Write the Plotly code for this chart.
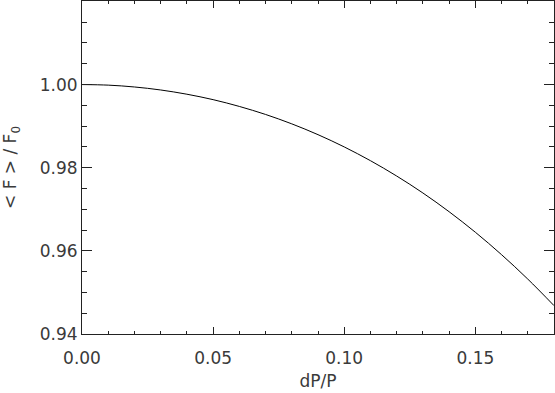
import plotly.graph_objects as go

dp_over_p = [0.00, 0.01, 0.02, 0.03, 0.04, 0.05, 0.06, 0.07, 0.08, 0.09,
             0.10, 0.11, 0.12, 0.13, 0.14, 0.15, 0.16, 0.17, 0.18]
flux_ratio = [1.00000, 0.99986, 0.99942, 0.99870, 0.99768, 0.99637, 0.99474,
              0.99281, 0.99055, 0.98795, 0.98500, 0.98169, 0.97800, 0.97392,
              0.96941, 0.96448, 0.95908, 0.95321, 0.94683]

x_ticks = [0.00, 0.05, 0.10, 0.15]
x_ticklabels = ["0.00", "0.05", "0.10", "0.15"]
y_ticks = [0.94, 0.96, 0.98, 1.00]
y_ticklabels = ["0.94", "0.96", "0.98", "1.00"]

FONT = "DejaVu Sans"
INK = "#222222"
TXT = "#3a3a3a"

fig = go.Figure()
fig.add_trace(go.Scatter(x=dp_over_p, y=flux_ratio, mode="lines",
                         line=dict(color="black", width=1, shape="spline"),
                         showlegend=False, hoverinfo="skip"))

axis_common = dict(
    showgrid=False, zeroline=False, showline=True, linecolor=INK, linewidth=1,
    mirror="ticks", ticks="inside", tickcolor=INK, tickwidth=1, automargin=False,
    tickfont=dict(family=FONT, size=17, color=TXT),
)

fig.update_xaxes(
    range=[0, 0.18], tickvals=x_ticks, ticktext=x_ticklabels, ticklen=7,
    ticklabelstandoff=9,
    minor=dict(dtick=0.01, ticks="inside", ticklen=3, tickcolor=INK, tickwidth=1),
    title=dict(text="dP/P", font=dict(family=FONT, size=17, color=TXT), standoff=7),
    **axis_common,
)
fig.update_yaxes(
    range=[0.94, 1.0201], tickvals=y_ticks, ticktext=y_ticklabels, ticklen=10,
    minor=dict(dtick=0.005, ticks="inside", ticklen=5, tickcolor=INK, tickwidth=1),
    title=dict(text="< F > / F<sub>0</sub>", font=dict(family=FONT, size=17, color=TXT), standoff=20),
    **axis_common,
)

fig.update_layout(
    width=555, height=393,
    margin=dict(l=82, r=1, t=1, b=59, autoexpand=False),
    paper_bgcolor="white", plot_bgcolor="white",
)

fig.write_html(
    "out.html",
    config={"displayModeBar": False},
    post_script="document.body.style.margin='0';"
                "document.documentElement.style.overflow='hidden';",
)
